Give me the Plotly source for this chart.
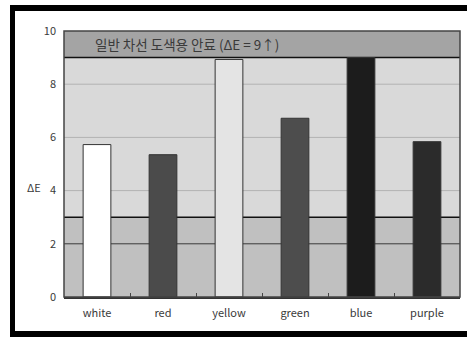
import plotly.graph_objects as go

categories = ["white", "red", "yellow", "green", "blue", "purple"]
delta_e = [5.73, 5.35, 8.93, 6.72, 9.0, 5.84]
bar_colors = ["#ffffff", "#4b4b4b", "#e4e4e4", "#4d4d4d", "#1c1c1c", "#2b2b2b"]
y_ticks = [0, 2, 4, 6, 8, 10]
band_label = "일반 차선 도색용 안료 (ΔE = 9↑)"
y_title = "ΔE"

W, H = 467, 337
ML, MR, MT, MB = 64, 7, 31, 40
PW, PH = W - ML - MR, H - MT - MB

def px(x):
    return (x - ML) / PW

def py(y):
    return (H - MB - y) / PH

fig = go.Figure()
fig.add_trace(go.Bar(
    x=categories, y=delta_e,
    marker=dict(color=bar_colors, line=dict(color="#333333", width=1)),
    width=0.42,
))

shapes = []
shapes.append(dict(type="rect", xref="paper", yref="y", x0=0, x1=1, y0=0, y1=3,
                   fillcolor="#c0c0c0", line=dict(width=0), layer="below"))
shapes.append(dict(type="rect", xref="paper", yref="y", x0=0, x1=1, y0=3, y1=9,
                   fillcolor="#d9d9d9", line=dict(width=0), layer="below"))
shapes.append(dict(type="rect", xref="paper", yref="y", x0=0, x1=1, y0=9, y1=10,
                   fillcolor="#a4a4a4", line=dict(width=0), layer="below"))
shapes.append(dict(type="line", xref="paper", yref="y", x0=0, x1=1, y0=2, y1=2,
                   line=dict(color="#3a3a3a", width=1), layer="below"))
for g in [4, 6, 8]:
    shapes.append(dict(type="line", xref="paper", yref="y", x0=0, x1=1, y0=g, y1=g,
                       line=dict(color="#b2b2b2", width=1), layer="below"))
for g in [3, 9]:
    shapes.append(dict(type="line", xref="paper", yref="y", x0=0, x1=1, y0=g, y1=g,
                       line=dict(color="#111111", width=1.5), layer="below"))
shapes.append(dict(type="rect", xref="paper", yref="paper", x0=0, x1=1, y0=0, y1=1,
                   line=dict(color="#444444", width=1.5), fillcolor="rgba(0,0,0,0)", layer="above"))
for (x0, x1, y0, y1) in [(10, 470, 5, 11), (10, 15, 5, 340), (10, 470, 331, 340)]:
    shapes.append(dict(type="rect", xref="paper", yref="paper",
                       x0=px(x0), x1=px(x1), y0=py(y1), y1=py(y0),
                       fillcolor="#000000", line=dict(width=0), layer="above"))

fig.update_layout(
    width=W, height=H,
    margin=dict(l=ML, r=MR, t=MT, b=MB),
    paper_bgcolor="#ffffff", plot_bgcolor="#d9d9d9",
    showlegend=False,
    bargap=0.58,
    shapes=shapes,
    font=dict(family="Noto Sans CJK KR, Liberation Sans", size=11, color="#333333"),
    xaxis=dict(showgrid=False, ticks="inside", tickson="boundaries", ticklen=4,
               tickcolor="#444444", showline=True, linecolor="#333333", linewidth=1.5,
               ticklabelstandoff=5,
               tickfont=dict(size=11, color="#3a3a3a"), range=[-0.5, 5.5]),
    yaxis=dict(range=[0, 10], tickvals=y_ticks, showgrid=False, zeroline=False,
               showline=False, ticks="", ticklabelstandoff=7,
               tickfont=dict(size=11, color="#3a3a3a")),
    annotations=[
        dict(text=band_label, xref="paper", yref="y", x=px(187), y=9.5,
             showarrow=False, font=dict(size=13.5, color="#3a3a3a"), xanchor="center"),
        dict(text=y_title, xref="paper", yref="paper", x=px(34), y=py(187),
             showarrow=False, font=dict(size=11, color="#3a3a3a"), xanchor="center"),
    ],
)

fig.write_html("out.html")
